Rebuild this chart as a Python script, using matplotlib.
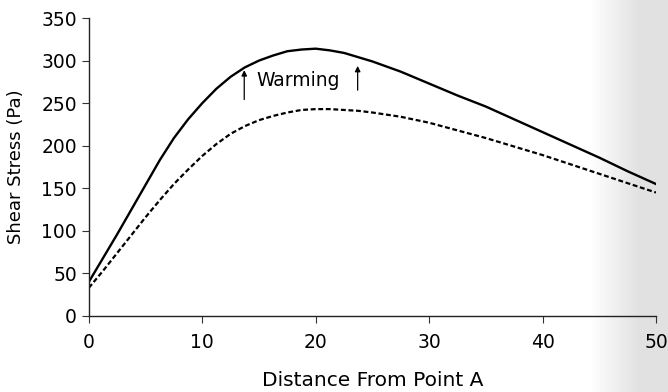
import numpy as np
import matplotlib
matplotlib.use('Agg')
from matplotlib import pyplot as plt

plt.rcParams['font.family'] = ['DejaVu Sans']

# distance from point A
distance = [0, 1.25, 2.5, 3.75, 5, 6.25, 7.5, 8.75, 10, 11.25, 12.5, 13.75,
            15, 16.25, 17.5, 18.75, 20, 21.25, 22.5, 23.75, 25,
            27.5, 30, 32.5, 35, 37.5, 40, 42.5, 45, 47.5, 50]
# shear stress after warming (solid)
stress_warm = [40, 68, 96, 125, 154, 183, 209, 231, 250, 267, 281, 292,
               300, 306, 311, 313, 314, 312, 309, 304, 299,
               287, 273, 259, 246, 231, 216, 201, 186, 170, 155]
# shear stress before warming (dotted)
stress_base = [33, 53, 74, 95, 116, 136, 155, 172, 188, 202, 214, 223,
               230, 235, 239, 242, 243, 243, 242, 241, 239,
               234, 227, 218, 209, 199, 189, 178, 167, 156, 145]

xticks = [0, 10, 20, 30, 40, 50]
yticks = [0, 50, 100, 150, 200, 250, 300, 350]

fig = plt.figure(figsize=(6.68, 3.92), dpi=100)

# grey shading from the scan on the right edge
bg = fig.add_axes([0, 0, 1, 1], zorder=-1)
grad = np.linspace(0, 1, 300)
shade = np.clip((grad - 0.885) / 0.075, 0, 1) * 0.12
bg.imshow(1 - np.tile(shade, (10, 1)), cmap='gray', vmin=0, vmax=1,
          aspect='auto', extent=[0, 1, 0, 1])
bg.axis('off')

ax = fig.add_axes([0.133, 0.194, 0.849, 0.760])
ax.patch.set_alpha(0)
ax.plot(distance, stress_warm, color='black', lw=1.7)
ax.plot(distance, stress_base, color='black', lw=1.6, linestyle=(0, (2.2, 1.2)))

ax.annotate('', xy=(13.7, 292), xytext=(13.7, 251),
            arrowprops=dict(arrowstyle='-|>', color='black', lw=0.9, mutation_scale=8))
ax.annotate('', xy=(23.7, 297), xytext=(23.7, 262),
            arrowprops=dict(arrowstyle='-|>', color='black', lw=0.9, mutation_scale=8))
ax.text(14.8, 277, 'Warming', fontsize=13.5, va='center', ha='left')

ax.set_xlim(0, 50)
ax.set_ylim(0, 350)
ax.set_xticks(xticks)
ax.set_yticks(yticks)
ax.tick_params(axis='both', labelsize=13.5, length=5, width=0.8, color='#333333')
ax.tick_params(axis='x', pad=7)
for s in ['top', 'right']:
    ax.spines[s].set_visible(False)
for s in ['left', 'bottom']:
    ax.spines[s].set_linewidth(1.0)
    ax.spines[s].set_color('#222222')

ax.set_xlabel('Distance From Point A', fontsize=14.5, labelpad=14)
ax.set_ylabel('Shear Stress (Pa)', fontsize=13, labelpad=12)

fig.savefig('out.png', dpi=100)
